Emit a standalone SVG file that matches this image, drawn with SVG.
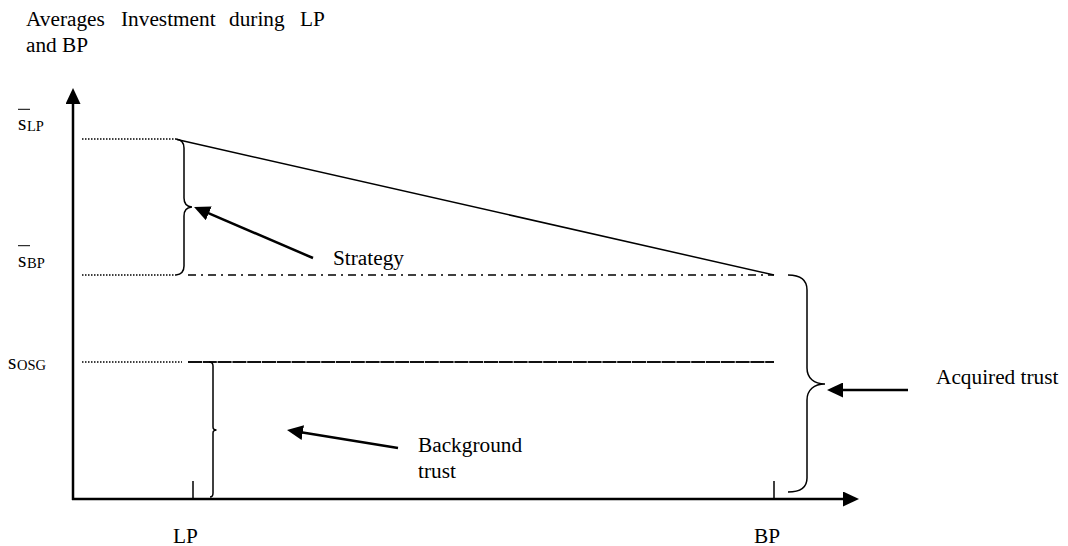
<svg xmlns="http://www.w3.org/2000/svg" width="1068" height="546" viewBox="0 0 1068 546">
<defs>
<marker id="ah" markerUnits="userSpaceOnUse" viewBox="0 0 16 15" refX="8" refY="7.5" markerWidth="16" markerHeight="15" orient="auto">
<path d="M0,0 L16,7.5 L0,15 Z" fill="#000"/>
</marker>
<style>
text{font-family:"Liberation Serif","Times New Roman",serif;fill:#000}
.t{font-size:21.3px}
.sub{font-size:14.5px}
.arr{stroke:#000;stroke-width:2.5;fill:none;marker-end:url(#ah)}
.brace{stroke:#000;stroke-width:1.5;fill:none}
.dot{stroke:#000;stroke-width:1.3;stroke-dasharray:1.5 1.5;fill:none}
.thin{stroke:#000;stroke-width:1.5;fill:none}
</style>
</defs>
<rect width="1068" height="546" fill="#fff"/>
<g id="title">
<text class="t" y="26"><tspan x="26">Averages</tspan><tspan x="121">Investment</tspan><tspan x="229">during</tspan><tspan x="300">LP</tspan></text>
<text class="t" x="26" y="52">and BP</text>
</g>
<g id="axes">
<line class="arr" x1="73" y1="500" x2="73" y2="96"/>
<line class="arr" x1="72" y1="499" x2="851" y2="499"/>
<line class="thin" x1="193" y1="481" x2="193" y2="499"/>
<line class="thin" x1="774" y1="481" x2="774" y2="499"/>
</g>
<g id="label-sLP">
<line x1="18" y1="109.3" x2="30" y2="109.3" stroke="#000" stroke-width="1"/>
<text class="t" x="18" y="130">s</text>
<text class="sub" x="27" y="131">LP</text>
</g>
<g id="label-sBP">
<line x1="18" y1="245.7" x2="30" y2="245.7" stroke="#000" stroke-width="1"/>
<text class="t" x="18" y="267">s</text>
<text class="sub" x="27" y="268">BP</text>
</g>
<g id="label-sOSG">
<text class="t" x="8" y="369">s</text>
<text class="sub" x="17" y="370">OSG</text>
</g>
<g id="lines">
<line class="dot" x1="82" y1="139" x2="176" y2="139"/>
<line class="dot" x1="82" y1="275" x2="176" y2="275"/>
<line class="dot" x1="82" y1="362" x2="182" y2="362"/>
<line class="thin" x1="177" y1="139.5" x2="774" y2="275"/>
<line stroke="#000" stroke-width="1.5" stroke-dasharray="8 5 2 5" x1="188" y1="275" x2="774" y2="275"/>
<line stroke="#111" stroke-width="1.8" stroke-dasharray="14 0.8" x1="188" y1="362" x2="774" y2="362"/>
</g>
<g id="strategy">
<path class="brace" d="M176,139 Q184,140 184,148 L184,198 Q184,206.5 192,207 Q184,207.5 184,216 L184,266 Q184,274 176,275"/>
<text class="t" x="333" y="265">Strategy</text>
</g>
<g id="background-trust">
<path class="brace" d="M209,362 Q213,362 213,366 L213,427 Q213,430 216.5,430 Q213,430 213,433 L213,493 Q213,497 210,497"/>
<text class="t" x="418" y="452">Background</text>
<text class="t" x="418" y="478">trust</text>
</g>
<g id="acquired-trust">
<path class="brace" d="M788,275 C800,275 807,280 807,290 L807,368 C807,378 814,384 825,384 C814,384 807,390 807,400 L807,478 C807,488 800,492 788,492" stroke-width="1.8"/>
<text class="t" x="936" y="384">Acquired trust</text>
</g>
<g id="connectors">
<line class="arr" x1="313" y1="258" x2="201.4" y2="210.2"/>
<line class="arr" x1="398" y1="448" x2="294.9" y2="431.3"/>
<line class="arr" x1="908" y1="390" x2="835" y2="390"/>
</g>
<g id="x-labels">
<text class="t" x="173" y="543">LP</text>
<text class="t" x="754" y="543">BP</text>
</g>
</svg>
